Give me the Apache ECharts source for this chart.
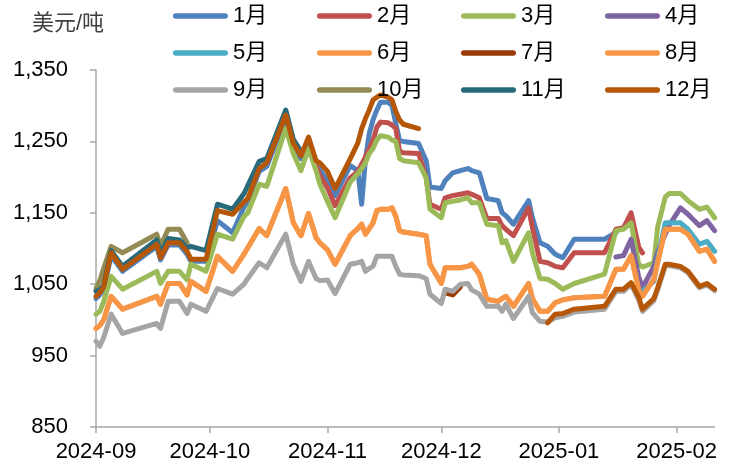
<!DOCTYPE html>
<html><head><meta charset="utf-8">
<script src="https://cdn.jsdelivr.net/npm/echarts@6/dist/echarts.min.js"></script>
<style>html,body{margin:0;padding:0;background:#fff;}#c{position:absolute;left:0;top:0;width:720px;height:470px;}</style>
</head><body><div id="c"></div>
<script>
const dates = ['2024-09-01','2024-09-02','2024-09-03','2024-09-05','2024-09-08','2024-09-17','2024-09-18','2024-09-20','2024-09-23','2024-09-25',
'2024-09-26','2024-09-30','2024-10-03','2024-10-07','2024-10-10','2024-10-11','2024-10-14','2024-10-16','2024-10-21','2024-10-23',
'2024-10-25','2024-10-27','2024-10-29','2024-10-30','2024-11-01','2024-11-03','2024-11-07','2024-11-09','2024-11-10','2024-11-11',
'2024-11-12','2024-11-13','2024-11-14','2024-11-15','2024-11-17','2024-11-18','2024-11-19','2024-11-20','2024-11-21','2024-11-25',
'2024-11-27','2024-11-28','2024-12-01','2024-12-02','2024-12-04','2024-12-06','2024-12-08','2024-12-09','2024-12-11','2024-12-13',
'2024-12-16','2024-12-17','2024-12-18','2024-12-20','2024-12-24','2024-12-25','2024-12-27','2024-12-29','2024-12-31','2025-01-02',
'2025-01-05','2025-01-13','2025-01-16','2025-01-18','2025-01-20','2025-01-22','2025-01-23','2025-01-26','2025-01-27','2025-01-29',
'2025-01-30','2025-02-02','2025-02-04','2025-02-07','2025-02-09','2025-02-11'];
const tickLabels = ['2024-09','2024-10','2024-11','2024-12','2025-01','2025-02'];
const names = ['1月','2月','3月','4月','5月','6月','7月','8月','9月','10月','11月','12月'];

const m1 = [1030,1035,1043,1090,1068,1103,1084,1105,1105,1092,
1082,1082,1139,1122,1158,1166,1208,1215,1282,1242,
1226,1250,1218,1210,1195,1174,1216,1209,1162,1225,
1261,1280,1294,1305,1305,1300,1275,1251,1250,1247,
1223,1186,1184,1195,1206,1209,1212,1209,1206,1170,
1167,1150,1146,1134,1167,1143,1108,1103,1092,1087,
1113,1113,1122,null,null,null,null,null,null,null,
null,null,null,null,null,null];
const m2 = [null,null,null,null,null,null,null,null,null,null,
null,null,null,null,null,null,null,null,null,null,
null,null,1216,1202,1185,1160,1199,1208,1218,1228,
1240,1251,1270,1277,1276,1273,1268,1236,1234,1233,
1199,1162,1155,1171,1174,1176,1178,1176,1171,1142,
1142,1132,1127,1118,1157,1129,1082,1080,1075,1073,
1094,1094,1127,1129,1150,1102,1094,null,null,null,
null,null,null,null,null,null];
const m3 = [1008,1012,1025,1061,1043,1068,1051,1068,1068,1056,
1078,1068,1120,1113,1145,1150,1190,1187,1268,1233,
1209,1240,1209,1190,1166,1143,1193,1205,1212,1220,
1233,1240,1252,1258,1256,1252,1250,1226,1223,1220,
1199,1155,1143,1164,1166,1168,1171,1164,1164,1134,
1132,1108,1111,1082,1122,1094,1058,1057,1051,1043,
1051,1064,1125,1127,1136,1078,1074,1080,1130,1172,
1177,1177,1167,1155,1158,1143];
const m4 = [null,null,null,null,null,null,null,null,null,null,
null,null,null,null,null,null,null,null,null,null,
null,null,null,null,null,null,null,null,null,null,
null,null,null,null,null,null,null,null,null,null,
null,null,null,null,null,null,null,null,null,null,
null,null,null,null,null,null,null,null,null,null,
null,null,1088,1090,1113,1060,1045,1075,1095,1120,
1132,1157,1148,1132,1139,1125];
const m5 = [null,null,null,null,null,null,null,null,null,null,
null,null,null,null,null,null,null,null,null,null,
null,null,null,null,null,null,null,null,null,null,
null,null,null,null,null,null,null,null,null,null,
null,null,null,null,null,null,null,null,null,null,
null,null,null,null,null,null,null,null,null,null,
null,null,null,null,null,null,1040,1054,1085,1136,
1136,1136,1127,1106,1110,1096];
const m6 = [988,992,1000,1033,1015,1033,1022,1051,1051,1035,
1054,1040,1089,1068,1092,1101,1128,1118,1184,1136,
1118,1149,1115,1108,1098,1078,1118,1128,1134,1120,
1128,1136,1153,1155,1155,1157,1145,1125,1123,1120,
1118,1078,1051,1073,1073,1073,1075,1078,1064,1029,
1026,1030,1033,1019,1051,1030,1012,1012,1024,1028,
1031,1033,1071,1071,1090,1042,1033,1057,1080,1127,
1127,1127,1120,1096,1099,1082];
const m7 = [null,null,null,null,null,null,null,null,null,null,
null,null,null,null,null,null,null,null,null,null,
null,null,null,null,null,null,null,null,null,null,
null,null,null,null,null,null,null,null,null,null,
null,null,null,1038,1035,1046,null,null,null,null,
null,null,null,null,null,null,null,null,null,null,
null,null,null,null,null,null,null,null,null,null,
null,null,null,null,null,null];
const m8 = [988,992,1000,1033,1015,1033,1022,1051,1051,1035,
1054,1040,1089,1068,1092,1101,1128,1118,1184,1136,
1118,1149,1115,1108,1098,1078,1118,1128,1134,1120,
1128,1136,1153,1155,1155,1157,1145,1125,1123,1120,
1118,1078,1051,1073,1073,1073,1075,1078,1064,1029,
1026,1030,1033,1019,1051,1030,1012,1012,1024,1028,
1031,1033,1071,1071,1090,1042,1033,1057,1080,1127,
1127,1127,1120,1096,1099,1082];
const m9 = [970,963,975,1008,981,995,988,1026,1026,1009,
1022,1012,1044,1036,1050,1058,1080,1073,1120,1078,
1054,1082,1058,1055,1056,1037,1078,1080,1082,1068,
1072,1075,1089,1089,1089,1089,1075,1064,1063,1062,
1058,1036,1023,1043,1040,1050,1051,1042,1036,1019,
1019,1012,1022,1002,1033,1010,998,997,1003,1005,
1011,1015,1040,1040,1050,1028,1012,1027,1042,1075,
1076,1073,1066,1045,1049,1041];
const m10 = [1044,1055,1072,1103,1094,1120,1103,1127,1127,1108,
null,null,null,null,null,null,null,null,null,null,
null,null,null,null,null,null,null,null,null,null,
null,null,null,null,null,null,null,null,null,null,
null,null,null,null,null,null,null,null,null,null,
null,null,null,null,null,null,null,null,null,null,
null,null,null,null,null,null,null,null,null,null,
null,null,null,null,null,null];
const m11 = [1040,1042,1048,1097,1075,1112,1093,1114,1112,1101,
1103,1097,1162,1155,1177,1188,1222,1226,1294,1253,
1236,null,null,null,null,null,null,null,null,null,
null,null,null,null,null,null,null,null,null,null,
null,null,null,null,null,null,null,null,null,null,
null,null,null,null,null,null,null,null,null,null,
null,null,null,null,null,null,null,null,null,null,
null,null,null,null,null,null];
const m12 = [1033,1038,1046,1094,1071,1106,1087,1108,1108,1096,
1085,1085,1153,1148,1165,1170,1212,1220,1287,1247,
1230,1256,1223,1220,1208,1184,1226,1248,1268,1282,
1294,1308,1312,1315,1312,1308,1292,1280,1274,1268,
null,null,null,null,null,null,null,null,null,null,
null,null,null,null,null,null,null,996,1008,1009,
1015,1019,1043,1043,1052,1032,1015,1030,1045,1078,
1078,1075,1068,1047,1051,1043];

const seriesValues = [m1,m2,m3,m4,m5,m6,m7,m8,m9,m10,m11,m12];
const colors = ['#4F81BD','#C0504D','#9BBB59','#8064A2','#4BACC6','#F79646','#9C3A06','#F79646','#A5A5A5','#948A54','#276A7C','#B65708'];

const DAY = 86400000;
const base = Date.UTC(2024, 8, 1);
function dayOf(s) { const p = s.split('-').map(Number); return Math.round((Date.UTC(p[0], p[1]-1, p[2] || 1) - base) / DAY); }
const xs = dates.map(dayOf);
const tickDays = tickLabels.map(t => dayOf(t + '-01'));
const labelMap = {};
tickDays.forEach((d, i) => { labelMap[d] = tickLabels[i]; });

const FONT = "'Liberation Sans', 'Noto Sans CJK SC', Arial, sans-serif";
const cols = [[0,4,8],[1,5,9],[2,6,10],[3,7,11]];
const colLeft = [173, 317, 461, 605];
const icon = 'path://M5,0 L95,0 A5,5 0 0 1 95,10 L5,10 A5,5 0 0 1 5,0 Z';

const chart = echarts.init(document.getElementById('c'), null, {renderer: 'canvas'});
chart.setOption({
  animation: false,
  backgroundColor: '#ffffff',
  color: colors,
  textStyle: {fontFamily: FONT},
  graphic: [{type: 'text', left: 32, top: 13, style: {text: '美元/吨', fontSize: 22, fill: '#404040', fontFamily: FONT}}],
  legend: cols.map((c, k) => ({
    orient: 'vertical', left: colLeft[k], top: 4, padding: 0,
    itemWidth: 55, itemHeight: 6, itemGap: 13, icon: icon,
    textStyle: {fontSize: 22, lineHeight: 24, color: '#000', fontFamily: FONT},
    data: c.map(i => names[i])
  })),
  grid: {left: 96, right: 2, top: 70, bottom: 43, containLabel: false},
  xAxis: {
    type: 'value', min: 0, max: 163,
    axisLine: {show: true, lineStyle: {color: '#A6A6A6', width: 1.5}},
    axisTick: {show: true, length: 6, customValues: tickDays, lineStyle: {color: '#A6A6A6', width: 1.5}},
    axisLabel: {customValues: tickDays, formatter: v => labelMap[v] || '', fontSize: 22, color: '#000', margin: 14, fontFamily: FONT},
    splitLine: {show: false}
  },
  yAxis: {
    type: 'value', min: 850, max: 1350, interval: 100,
    axisLine: {show: true, lineStyle: {color: '#A6A6A6', width: 1.5}},
    axisTick: {show: true, length: 6, lineStyle: {color: '#A6A6A6', width: 1.5}},
    axisLabel: {fontSize: 22, color: '#000', margin: 28, fontFamily: FONT,
      formatter: v => v.toLocaleString('en-US')},
    splitLine: {show: false}
  },
  series: seriesValues.map((vals, i) => ({
    name: names[i], type: 'line', symbol: 'none', connectNulls: false,
    lineStyle: {width: 5, color: colors[i], cap: 'round', join: 'round'},
    itemStyle: {color: colors[i]},
    data: vals.map((v, j) => [xs[j], v])
  }))
});
</script></body></html>
